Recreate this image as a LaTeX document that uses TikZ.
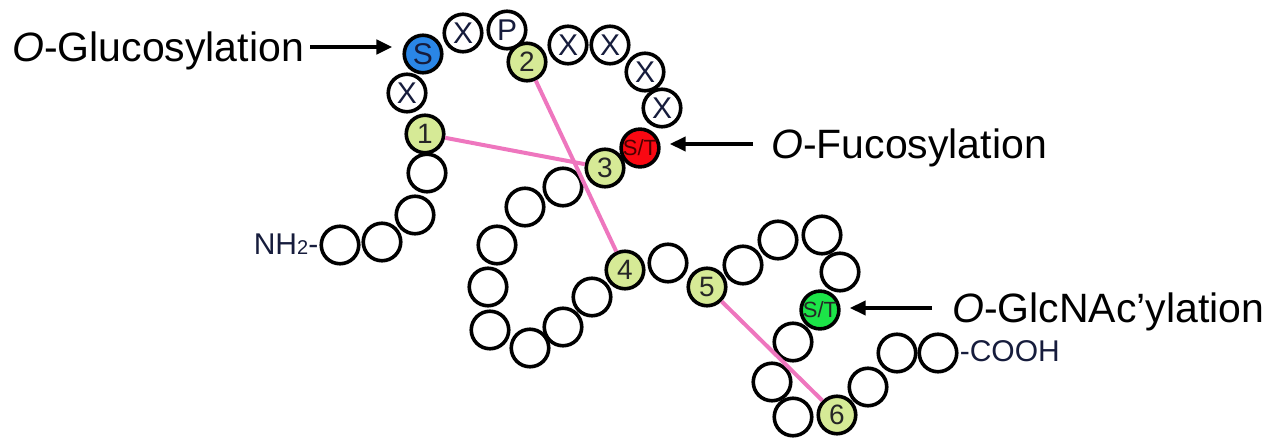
\documentclass[tikz,border=0pt]{standalone}
\usepackage{fontspec}
\setmainfont{Liberation Sans}
\usetikzlibrary{arrows.meta}
\definecolor{bluefill}{RGB}{42,134,230}
\definecolor{redfill}{RGB}{250,8,18}
\definecolor{greenfill}{RGB}{28,228,72}
\definecolor{palegreen}{RGB}{214,234,150}
\definecolor{pinkline}{RGB}{238,118,190}
\definecolor{labnavy}{RGB}{22,28,60}
\begin{document}
\begin{tikzpicture}[x=1pt,y=-1pt,
  res/.style={circle,draw=black,line width=3.6pt,fill=white,minimum size=37.5pt,inner sep=0pt,
    font=\fontsize{30}{30}\selectfont,text=labnavy},
  num/.style={res,fill=palegreen,font=\fontsize{28}{28}\selectfont,text=black!85},
  glcres/.style={res,fill=bluefill},
  stred/.style={res,fill=redfill,font=\fontsize{22}{22}\selectfont,text=black!70!red},
  stgreen/.style={res,fill=greenfill,font=\fontsize{22}{22}\selectfont,text=black!85},
  bond/.style={draw=pinkline,line width=4pt},
  arr/.style={draw=black,line width=4pt,-{Triangle[length=16pt,width=14pt]}},
  biglabel/.style={anchor=base west,font=\fontsize{41}{41}\selectfont,inner sep=0pt},
  endlabel/.style={font=\fontsize{30}{30}\selectfont,text=labnavy,inner sep=0pt}
]
\useasboundingbox (0,0) rectangle (1280,443);
% chain
\node[res] (c1) at (340,245) {};
\node[res] (c2) at (382,242) {};
\node[res] (c3) at (415,215) {};
\node[res] (c4) at (427,173) {};
\node[num] (n1) at (425,134) {1};
\node[res] (x1) at (407,93) {X};
\node[glcres] (S) at (423,54) {S};
\node[res] (x2) at (463,33) {X};
\node[res] (P) at (507,30) {P};
\node[num] (n2) at (527,62) {2};
\node[res] (x3) at (568,45) {X};
\node[res] (x4) at (610,45) {X};
\node[res] (x5) at (645,72) {X};
\node[res] (x6) at (662,108) {X};
\node[stred] (stR) at (640,148) {S/T};
\node[num] (n3) at (605,168) {3};
\node[res] (d1) at (563,187) {};
\node[res] (d2) at (525,207) {};
\node[res] (d3) at (497,245) {};
\node[res] (d4) at (488,287) {};
\node[res] (d5) at (490,330) {};
\node[res] (d6) at (530,348) {};
\node[res] (d7) at (563,327) {};
\node[res] (d8) at (592,297) {};
\node[num] (n4) at (625,270) {4};
\node[res] (e1) at (668,263) {};
\node[num] (n5) at (707,287) {5};
\node[res] (e2) at (743,265) {};
\node[res] (e3) at (778,240) {};
\node[res] (e4) at (822,235) {};
\node[res] (e5) at (840,272) {};
\node[stgreen] (stG) at (820,310) {S/T};
\node[res] (f1) at (793,342) {};
\node[res] (f2) at (772,382) {};
\node[res] (f3) at (793,417) {};
\node[num] (n6) at (837,415) {6};
\node[res] (g1) at (868,387) {};
\node[res] (g2) at (897,353) {};
\node[res] (g3) at (938,353) {};
% termini
\node[endlabel,anchor=east] (nh2) at ([xshift=-1pt,yshift=1pt]c1.west) {NH{\fontsize{20}{20}\selectfont 2}-};
\node[endlabel,anchor=west] (cooh) at ([xshift=1pt,yshift=2pt]g3.east) {-COOH};
% disulfide bonds
\draw[bond] (n1) -- (n3);
\draw[bond] (n2) -- (n4);
\draw[bond] (n5) -- (n6);
% labels
\node[biglabel] (glc) at (12,62) {\textit{O}-Glucosylation};
\node[biglabel] (fuc) at (771,159) {\textit{O}-Fucosylation};
\node[biglabel] (gln) at (952,323) {\textit{O}-GlcNAc’ylation};
\coordinate (glcA) at (310,47);
\coordinate (fucA) at (753,144);
\coordinate (glnA) at (932,308);
\draw[arr] (glcA) -- ([xshift=-10pt]S.west |- glcA);
\draw[arr] (fucA) -- ([xshift=9pt]stR.east |- fucA);
\draw[arr] (glnA) -- ([xshift=9pt]stG.east |- glnA);
\end{tikzpicture}
\end{document}
